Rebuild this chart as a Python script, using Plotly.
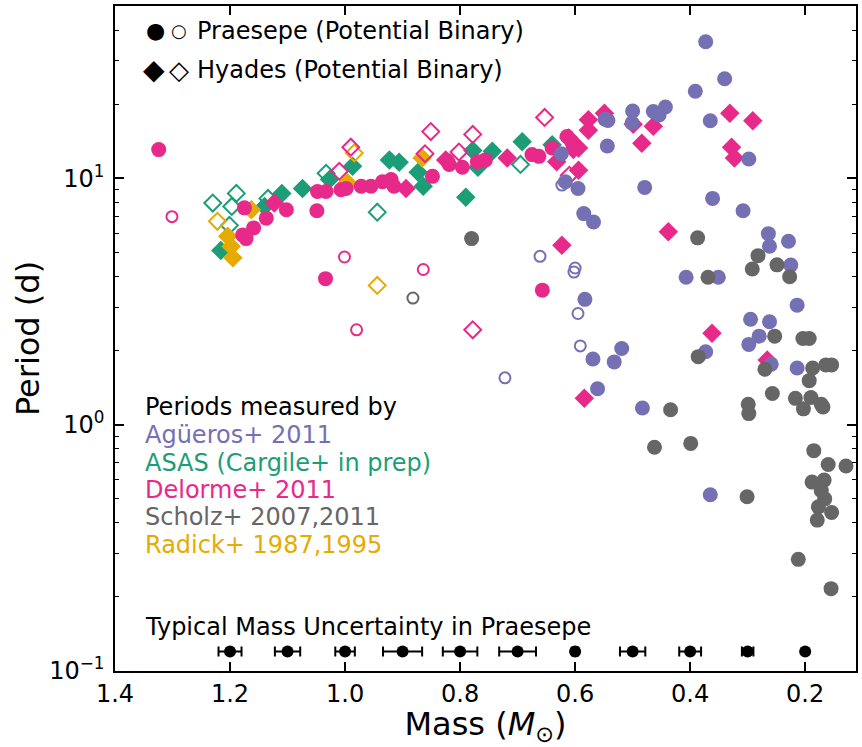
import plotly.graph_objects as go

# ---------------- data (mass in Msun, period in days) ----------------
# Agueros+ 2011 (Praesepe, circles)
agu_mass = [0.373, 0.340, 0.391, 0.500, 0.501, 0.464, 0.454, 0.443, 0.543, 0.548, 0.544, 0.365,
            0.298, 0.624, 0.617, 0.595, 0.479, 0.361, 0.308, 0.585, 0.568, 0.264, 0.262, 0.229,
            0.225, 0.407, 0.351, 0.214, 0.583, 0.295, 0.262, 0.280, 0.298, 0.373, 0.259, 0.214,
            0.569, 0.532, 0.519, 0.561, 0.483, 0.365]
agu_period = [35.9, 25.4, 22.6, 18.8, 16.8, 18.7, 18.1, 19.5, 17.2, 17.4, 13.55, 17.15,
              12.0, 12.6, 9.7, 9.1, 9.2, 8.3, 7.4, 7.2, 6.66, 5.97, 5.31, 5.56,
              4.45, 3.97, 3.97, 3.06, 3.23, 2.68, 2.62, 2.29, 2.12, 1.98, 1.76, 1.70,
              1.85, 1.80, 2.04, 1.40, 1.17, 0.52]
agu_bin_mass = [0.623, 0.661, 0.600, 0.602, 0.595, 0.591, 0.722]
agu_bin_period = [9.4, 4.83, 4.33, 4.17, 2.83, 2.09, 1.55]

# ASAS (Cargile+ in prep) (Hyades, diamonds)
asas_mass = [1.216, 1.140, 1.110, 1.074, 1.027, 0.987, 0.923, 0.906, 0.873, 0.864, 0.790,
             0.778, 0.744, 0.769, 0.692, 0.640]
asas_period = [5.1, 7.7, 8.7, 9.1, 9.9, 11.2, 11.9, 11.65, 10.6, 9.3, 8.4,
               13.0, 12.9, 11.1, 14.1, 13.7]
asas_bin_mass = [1.230, 1.189, 1.197, 1.201, 1.134, 1.033, 0.944, 0.695]
asas_bin_period = [7.95, 8.7, 7.7, 6.45, 8.3, 10.5, 7.3, 11.4]

# Delorme+ 2011, Praesepe (circles)
del_p_mass = [1.324, 1.175, 1.137, 1.159, 1.178, 1.172, 1.102, 1.049, 1.048, 1.033, 1.007,
              0.998, 0.972, 0.955, 0.935, 0.920, 0.915, 0.848, 0.819, 0.822, 0.796, 0.770,
              0.756, 0.675, 0.663, 0.640, 0.614, 0.606, 1.034, 0.657]
del_p_period = [13.1, 7.6, 6.9, 6.3, 5.9, 5.7, 7.46, 7.4, 8.85, 8.85, 9.0,
                9.1, 9.3, 9.3, 9.7, 9.9, 9.3, 10.2, 11.4, 11.8, 11.1, 11.7,
                11.9, 12.5, 12.3, 13.3, 14.8, 14.1, 3.92, 3.52]
del_p_bin_mass = [1.301, 1.001, 0.864, 0.980]
del_p_bin_period = [7.0, 4.8, 4.27, 2.43]

# Delorme+ 2011, Hyades (diamonds)
del_h_mass = [1.123, 0.894, 0.825, 0.718, 0.577, 0.577, 0.549, 0.594, 0.594, 0.632, 0.611,
              0.603, 0.499, 0.464, 0.484, 0.331, 0.291, 0.328, 0.323, 0.438, 0.623, 0.362,
              0.266, 0.584]
del_h_period = [7.95, 9.1, 11.9, 12.1, 17.3, 15.7, 18.4, 13.3, 10.8, 11.7, 14.6,
                13.1, 16.6, 16.3, 13.9, 18.4, 17.15, 13.4, 12.1, 6.07, 5.36, 2.35,
                1.83, 1.28]
del_h_bin_mass = [0.990, 0.851, 0.778, 0.653, 0.861, 0.802, 1.010, 0.778, 0.610]
del_h_bin_period = [13.4, 15.5, 15.1, 17.7, 12.6, 12.8, 10.7, 2.43, 10.3]

# Scholz+ 2007, 2011 (Praesepe, circles)
sch_mass = [0.780, 0.387, 0.282, 0.249, 0.292, 0.227, 0.369, 0.386, 0.253, 0.204, 0.193,
            0.270, 0.187, 0.164, 0.154, 0.193, 0.257, 0.217, 0.190, 0.172, 0.203, 0.169,
            0.299, 0.298, 0.434, 0.462, 0.399, 0.301, 0.212, 0.155, 0.185, 0.160, 0.129,
            0.188, 0.167, 0.172, 0.166, 0.177, 0.154, 0.179]
sch_period = [5.7, 5.74, 4.86, 4.46, 4.29, 3.99, 3.97, 1.89, 2.29, 2.24, 2.24,
              1.68, 1.70, 1.75, 1.75, 1.51, 1.34, 1.28, 1.29, 1.21, 1.16, 1.18,
              1.21, 1.11, 1.15, 0.81, 0.84, 0.51, 0.284, 0.216, 0.785, 0.69, 0.68,
              0.585, 0.596, 0.54, 0.50, 0.464, 0.44, 0.41]
sch_bin_mass = [0.882]
sch_bin_period = [3.27]

# Radick+ 1987, 1995 (Hyades, diamonds)
rad_mass = [1.204, 1.198, 1.195, 1.163, 0.996, 0.866]
rad_period = [5.83, 5.3, 4.76, 7.46, 9.6, 12.1]
rad_bin_mass = [1.222, 0.984, 0.944]
rad_bin_period = [6.7, 12.7, 3.68]

# Typical mass uncertainty in Praesepe
unc_mass = [1.2, 1.1, 1.0, 0.9, 0.8, 0.7, 0.6, 0.5, 0.4, 0.3, 0.2]
unc_err = [0.020, 0.022, 0.017, 0.034, 0.030, 0.032, 0.005, 0.022, 0.019, 0.010, 0.002]
unc_period = [0.12] * len(unc_mass)

x_ticks = [1.4, 1.2, 1.0, 0.8, 0.6, 0.4, 0.2]
x_ticklabels = ["1.4", "1.2", "1.0", "0.8", "0.6", "0.4", "0.2"]
y_ticks = [0.1, 1, 10]
y_ticklabels = ["10<sup>−1</sup>", "10<sup>0</sup>", "10<sup>1</sup>"]
y_minor = [m * d for d in (0.1, 1, 10) for m in range(2, 10)]

# ---------------- styling ----------------
PURPLE = "#7570b3"
GREEN = "#1b9e77"
PINK = "#e7298a"
GRAY = "#666666"
YELLOW = "#e6ab02"
FONT = "DejaVu Sans"

fig = go.Figure()


def add(xs, ys, color, shape, binary):
    if binary:
        sym = shape + "-open"
        size = 11 if shape == "circle" else 13
        marker = dict(symbol=sym, size=size, color=color, line=dict(width=2, color=color))
    else:
        marker = dict(symbol=shape, size=15, color=color, line=dict(width=0))
    fig.add_trace(go.Scatter(x=xs, y=ys, mode="markers", marker=marker,
                             showlegend=False, hoverinfo="skip"))


add(asas_bin_mass, asas_bin_period, GREEN, "diamond", True)
add(asas_mass, asas_period, GREEN, "diamond", False)
add(rad_bin_mass, rad_bin_period, YELLOW, "diamond", True)
add(rad_mass, rad_period, YELLOW, "diamond", False)
add(del_h_bin_mass, del_h_bin_period, PINK, "diamond", True)
add(del_p_bin_mass, del_p_bin_period, PINK, "circle", True)
add(del_h_mass, del_h_period, PINK, "diamond", False)
add(del_p_mass, del_p_period, PINK, "circle", False)
add(agu_bin_mass, agu_bin_period, PURPLE, "circle", True)
add(agu_mass, agu_period, PURPLE, "circle", False)
add(sch_bin_mass, sch_bin_period, GRAY, "circle", True)
add(sch_mass, sch_period, GRAY, "circle", False)

fig.add_trace(go.Scatter(
    x=unc_mass, y=unc_period, mode="markers",
    marker=dict(symbol="circle", size=12, color="black"),
    error_x=dict(type="data", array=unc_err, visible=True, color="black",
                 thickness=2, width=5),
    showlegend=False, hoverinfo="skip"))

# ---------------- layout ----------------
W, H = 862, 747
L, R, T, B = 115, 4, 4, 76
pw, ph = W - L - R, H - T - B


def px(xp):
    return (xp - L) / pw


def py(yp):
    return (H - B - yp) / ph


annotations = []


def txt(text, xp, yp, size=24, color="black", xanchor="left"):
    annotations.append(dict(text=text, x=px(xp), y=py(yp), xref="paper", yref="paper",
                            xanchor=xanchor, yanchor="middle", showarrow=False,
                            font=dict(family=FONT, size=size, color=color)))


# legend-like header
txt("●", 156, 29, size=22, xanchor="center")
txt("○", 179, 29, size=18, xanchor="center")
txt("Praesepe (Potential Binary)", 195, 29)
txt("◆", 154, 68, size=28, xanchor="center")
txt("◇", 179, 68, size=26, xanchor="center")
txt("Hyades (Potential Binary)", 195, 68)

# periods measured by
txt("Periods measured by", 143, 406)
txt("Agüeros+ 2011", 143, 434, color=PURPLE)
txt("ASAS (Cargile+ in prep)", 143, 462, color=GREEN)
txt("Delorme+ 2011", 143, 489, color=PINK)
txt("Scholz+ 2007,2011", 143, 517, color=GRAY)
txt("Radick+ 1987,1995", 143, 545, color=YELLOW)

txt("Typical Mass Uncertainty in Praesepe", 143, 627)

fig.update_layout(
    width=W, height=H,
    margin=dict(l=L, r=R, t=T, b=B),
    plot_bgcolor="white", paper_bgcolor="white",
    font=dict(family=FONT, size=24, color="black"),
    annotations=annotations,
    xaxis=dict(
        range=[1.4, 1.4 - pw / 576.7],
        tickvals=x_ticks, ticktext=x_ticklabels,
        ticks="inside", ticklen=9, tickwidth=1.5, tickcolor="black",
        showline=True, linecolor="black", linewidth=1.5, mirror="allticks",
        showgrid=False, zeroline=False,
        tickfont=dict(family=FONT, size=24),
        title=dict(text="Mass (<i>M</i><sub>⊙</sub>)", font=dict(family=FONT, size=32),
                   standoff=4),
    ),
    yaxis=dict(
        type="log",
        range=[-1, -1 + ph / 247.0],
        tickvals=y_ticks, ticktext=y_ticklabels,
        ticks="inside", ticklen=9, tickwidth=1.5, tickcolor="black",
        minor=dict(tickvals=y_minor, ticks="inside", ticklen=4, tickwidth=1, tickcolor="black"),
        showline=True, linecolor="black", linewidth=1.5, mirror="allticks",
        showgrid=False, zeroline=False,
        tickfont=dict(family=FONT, size=24),
        ticklabelstandoff=4,
        title=dict(text="Period (d)", font=dict(family=FONT, size=32), standoff=0),
    ),
)

fig.write_html("out.html")
